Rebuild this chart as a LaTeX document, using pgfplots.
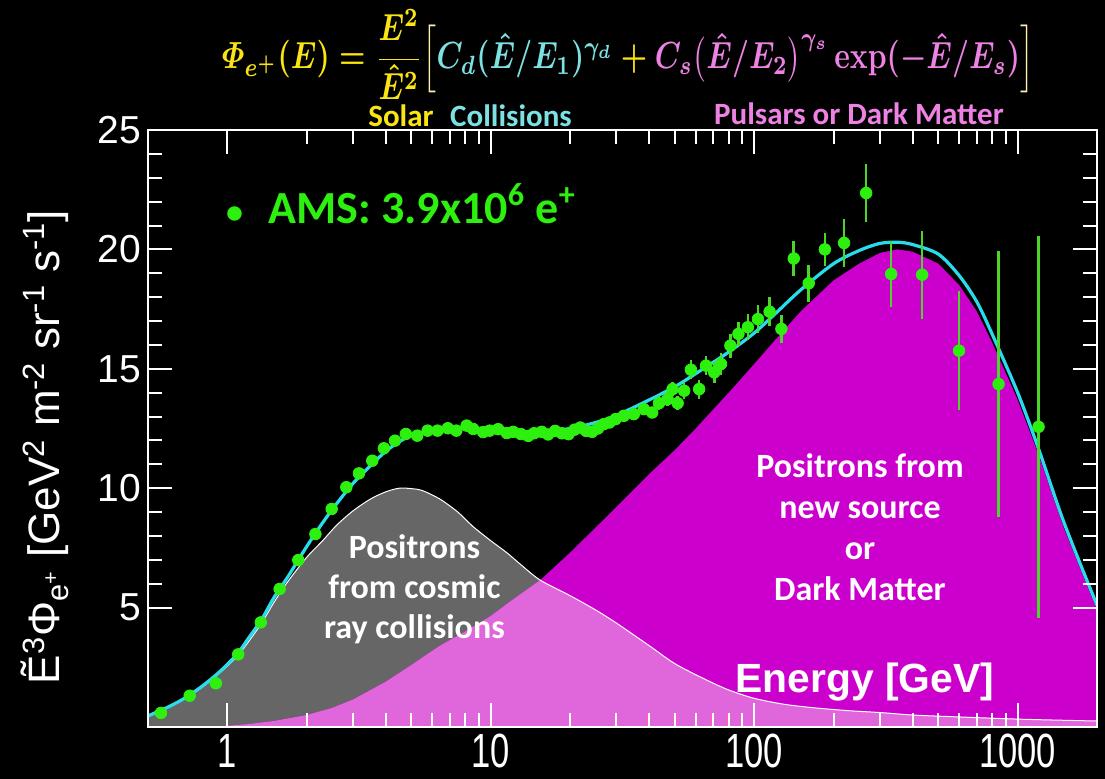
\documentclass[border=0pt]{standalone}
\usepackage[no-math]{fontspec}
\setmainfont{Liberation Sans}
\newfontfamily\calibri{Carlito}
\usepackage{amsmath}
\usepackage{graphicx}
\usepackage{pgfplots}
\usepackage{pgfplotstable}
\pgfplotsset{compat=1.18}

\definecolor{grayarea}{RGB}{102,102,102}
\definecolor{magarea}{RGB}{204,0,204}
\definecolor{pinkarea}{RGB}{224,102,220}
\definecolor{fitcyan}{RGB}{40,220,235}
\definecolor{amsgreen}{RGB}{45,240,15}
\definecolor{barsgreen}{RGB}{75,215,40}
\definecolor{fyellow}{RGB}{250,228,20}
\definecolor{fbracket}{RGB}{255,240,170}
\definecolor{fcyan}{RGB}{125,225,228}
\definecolor{fpink}{RGB}{238,130,228}

\pgfplotstableread{
E y
0.5 0.5
0.6 0.88
0.7 1.25
0.8 1.65
0.9 2.1
1.0 2.55
1.1 3.0
1.2 3.55
1.35 4.35
1.5 5.2
1.7 6.1
2.0 7.1
2.3 7.8
2.6 8.45
3.0 9.05
3.5 9.55
4.0 9.85
4.5 10.0
5.0 9.98
5.5 9.9
6.4 9.55
7.5 9.0
8.55 8.4
10 7.8
11.5 7.3
13 6.8
15.4 6.15
20 5.5
25 4.9
30 4.35
40 3.4
50 2.65
65 2.0
80 1.55
100 1.2
130 0.95
170 0.8
230 0.68
305 0.6
400 0.5
600 0.42
1000 0.33
1500 0.28
2000 0.25
}\collisions

\pgfplotstableread{
E y
0.5 0
0.8 0.01
1.0 0.05
1.2 0.12
1.5 0.25
2.0 0.5
2.5 0.8
3.0 1.15
4.0 1.9
5.0 2.6
6.4 3.4
8.0 4.0
10 4.65
12 5.3
15.4 6.15
20 7.3
25 8.35
29.3 9.1
35 9.95
40 10.6
50 11.6
60 12.5
80 14.0
100 15.2
120 16.2
150 17.4
200 18.7
250 19.4
300 19.85
350 20.0
400 19.9
500 19.4
600 18.5
700 17.4
800 16.1
1000 13.7
1200 11.4
1500 8.3
2000 4.9
}\source

\pgfplotstableread{
E y
0.5 0
0.8 0.01
1.0 0.05
1.2 0.12
1.5 0.25
2.0 0.5
2.5 0.8
3.0 1.15
4.0 1.9
5.0 2.6
6.4 3.4
8.0 4.0
10 4.65
12 5.3
15.4 6.15
20 5.5
25 4.9
30 4.35
40 3.4
50 2.65
65 2.0
80 1.55
100 1.2
130 0.95
170 0.8
230 0.68
305 0.6
400 0.5
600 0.42
1000 0.33
1500 0.28
2000 0.25
}\overlap

\pgfplotstableread{
E y
0.5 0.46
0.6 0.85
0.7 1.25
0.8 1.7
0.9 2.15
1.0 2.62
1.1 3.1
1.2 3.7
1.35 4.5
1.5 5.4
1.7 6.3
2.0 7.55
2.3 8.55
2.6 9.35
3.0 10.2
3.5 10.95
4.0 11.55
4.5 11.95
5.0 12.2
6.0 12.4
7.0 12.5
8.0 12.5
10 12.45
12 12.4
15 12.35
20 12.5
25 12.75
30 13.05
40 13.7
50 14.25
60 14.8
80 15.7
100 16.5
120 17.3
150 18.3
200 19.4
250 19.95
300 20.25
350 20.3
400 20.2
500 19.8
600 18.9
700 17.8
800 16.45
1000 14.0
1200 11.65
1500 8.55
2000 5.1
}\fitline

\pgfplotstableread{
E y err
0.56 0.59 0.05
0.72 1.31 0.05
0.905 1.83 0.05
1.10 3.04 0.05
1.34 4.38 0.05
1.58 5.78 0.05
1.86 6.99 0.05
2.16 8.08 0.05
2.49 9.13 0.05
2.83 10.04 0.05
3.16 10.62 0.05
3.55 11.15 0.05
3.93 11.67 0.05
4.33 11.99 0.05
4.76 12.27 0.05
5.26 12.2 0.05
5.76 12.41 0.05
6.28 12.41 0.05
6.87 12.51 0.05
7.4 12.41 0.05
8.1 12.62 0.05
8.57 12.48 0.05
9.35 12.35 0.05
9.9 12.41 0.05
10.66 12.47 0.05
11.5 12.31 0.05
12.17 12.36 0.05
13.0 12.27 0.05
13.88 12.19 0.05
14.6 12.3 0.05
15.61 12.36 0.1
16.5 12.25 0.1
17.55 12.40 0.1
18.6 12.3 0.1
19.73 12.26 0.1
20.8 12.45 0.1
21.86 12.54 0.1
23.0 12.4 0.1
24.23 12.36 0.15
25.5 12.5 0.15
26.84 12.68 0.15
28.2 12.75 0.15
29.74 12.89 0.2
32.0 13.03 0.2
34.9 13.1 0.2
38.1 13.31 0.25
41.0 13.17 0.25
43.5 13.56 0.3
46.9 13.73 0.3
49.0 14.15 0.3
51.2 13.56 0.3
54.2 14.08 0.35
57.5 14.96 0.4
61.8 14.15 0.4
65.6 15.13 0.4
70.5 14.85 0.45
74.8 15.2 0.45
81.2 15.97 0.5
87.1 16.46 0.5
94.6 16.74 0.55
103.3 17.08 0.6
114.4 17.39 0.6
126.8 16.67 0.6
141.3 19.62 0.75
161 18.58 0.77
185.4 20.0 0.7
219.3 20.27 1.0
266 22.36 1.2
331 18.97 1.4
434 18.94 1.84
599 15.76 2.5
846 14.36 5.56
1200 12.57 8.0
}\amsdata

\begin{document}
\begin{tikzpicture}
\fill[black] (-74pt,-26pt) rectangle (478.5pt,363.5pt);
\begin{axis}[
  at={(0pt,0pt)}, anchor=south west,
  scale only axis, width=474.5pt, height=298.5pt,
  xmode=log, xmin=0.5, xmax=2000, ymin=0, ymax=25,
  axis line style={white, line width=1pt},
  tick style={white, line width=1pt},
  tick align=inside,
  major tick length=12pt, minor tick length=7pt,
  xtick={1,10,100,1000},
  xticklabels={\scalebox{0.72}[1]{1},\scalebox{0.72}[1]{10},\scalebox{0.72}[1]{100},\scalebox{0.72}[1]{1000}},
  ytick={5,10,15,20,25},
  yticklabels={5,10,15,20,25},
  minor y tick num=4,
  tick label style={text=white},
  yticklabel style={font=\fontsize{19.5}{21}\selectfont},
  xticklabel style={font=\fontsize{24}{26}\selectfont},
  axis on top,
]
\addplot[fill=grayarea, draw=none] table[x=E,y=y] {\collisions} \closedcycle;
\addplot[fill=magarea, draw=none] table[x=E,y=y] {\source} \closedcycle;
\addplot[fill=pinkarea, draw=none] table[x=E,y=y] {\overlap} \closedcycle;
\addplot[white, line width=0.5pt, smooth] table[x=E,y=y] {\collisions};
\addplot[fitcyan, line width=1.6pt, smooth] table[x=E,y=y] {\fitline};
\addplot[only marks, mark=*, mark size=2.9pt,
  mark options={fill=amsgreen, draw=amsgreen},
  error bars/.cd, y dir=both, y explicit, error mark=none,
  error bar style={barsgreen, line width=1.3pt}]
  table[x=E, y=y, y error=err] {\amsdata};

\node[anchor=west, text=amsgreen, font={\calibri\bfseries\fontsize{23}{26}\selectfont}]
  at (axis cs:0.93,21.9) {{\fontsize{17}{20}\selectfont•}\hspace{0.55em}AMS: 3.9x10\textsuperscript{6} e\textsuperscript{+}};
\node[align=center, text=white, font={\calibri\bfseries\fontsize{17}{20}\selectfont}]
  at (axis cs:5.13,5.78) {Positrons\\from cosmic\\ray collisions};
\node[align=center, text=white, font={\calibri\bfseries\fontsize{17}{20.5}\selectfont}]
  at (axis cs:252,8.37) {Positrons from\\new source\\or\\Dark Matter};
\node[text=white, font={\bfseries\fontsize{20.4}{23}\selectfont}]
  at (axis cs:263,1.88) {Energy [GeV]};
\end{axis}

\node[rotate=90, text=white, font=\fontsize{22}{24}\selectfont] at (-51.5pt,140pt)
  {Ẽ\textsuperscript{3}Φ\textsubscript{e\textsuperscript{+}} [GeV\textsuperscript{2} m\textsuperscript{-2} sr\textsuperscript{-1} s\textsuperscript{-1}]};

\node[inner sep=0pt] at (240pt,336pt) {\resizebox*{406pt}{45pt}{\boldmath$\color{fyellow}\varPhi_{e^+}(E)=\dfrac{E^2}{\hat{E}^2}{\color{fbracket}\Big[}{\color{fcyan}C_d(\hat{E}/E_1)^{\gamma_d}}+{\color{fpink}C_s\big(\hat{E}/E_2\big)^{\gamma_s}\exp(-\hat{E}/E_s)}{\color{fbracket}\Big]}$}};

\node[text=fyellow, font={\calibri\bfseries\fontsize{15.5}{18}\selectfont}] at (126.5pt,305.5pt) {Solar};
\node[text=fcyan, font={\calibri\bfseries\fontsize{15.5}{18}\selectfont}] at (181.5pt,305.5pt) {Collisions};
\node[text=fpink, font={\calibri\bfseries\fontsize{15.5}{18}\selectfont}] at (355.5pt,306.5pt) {Pulsars or Dark Matter};

\pgfresetboundingbox
\path (-74pt,-26pt) rectangle (478.5pt,363.5pt);
\end{tikzpicture}
\end{document}
